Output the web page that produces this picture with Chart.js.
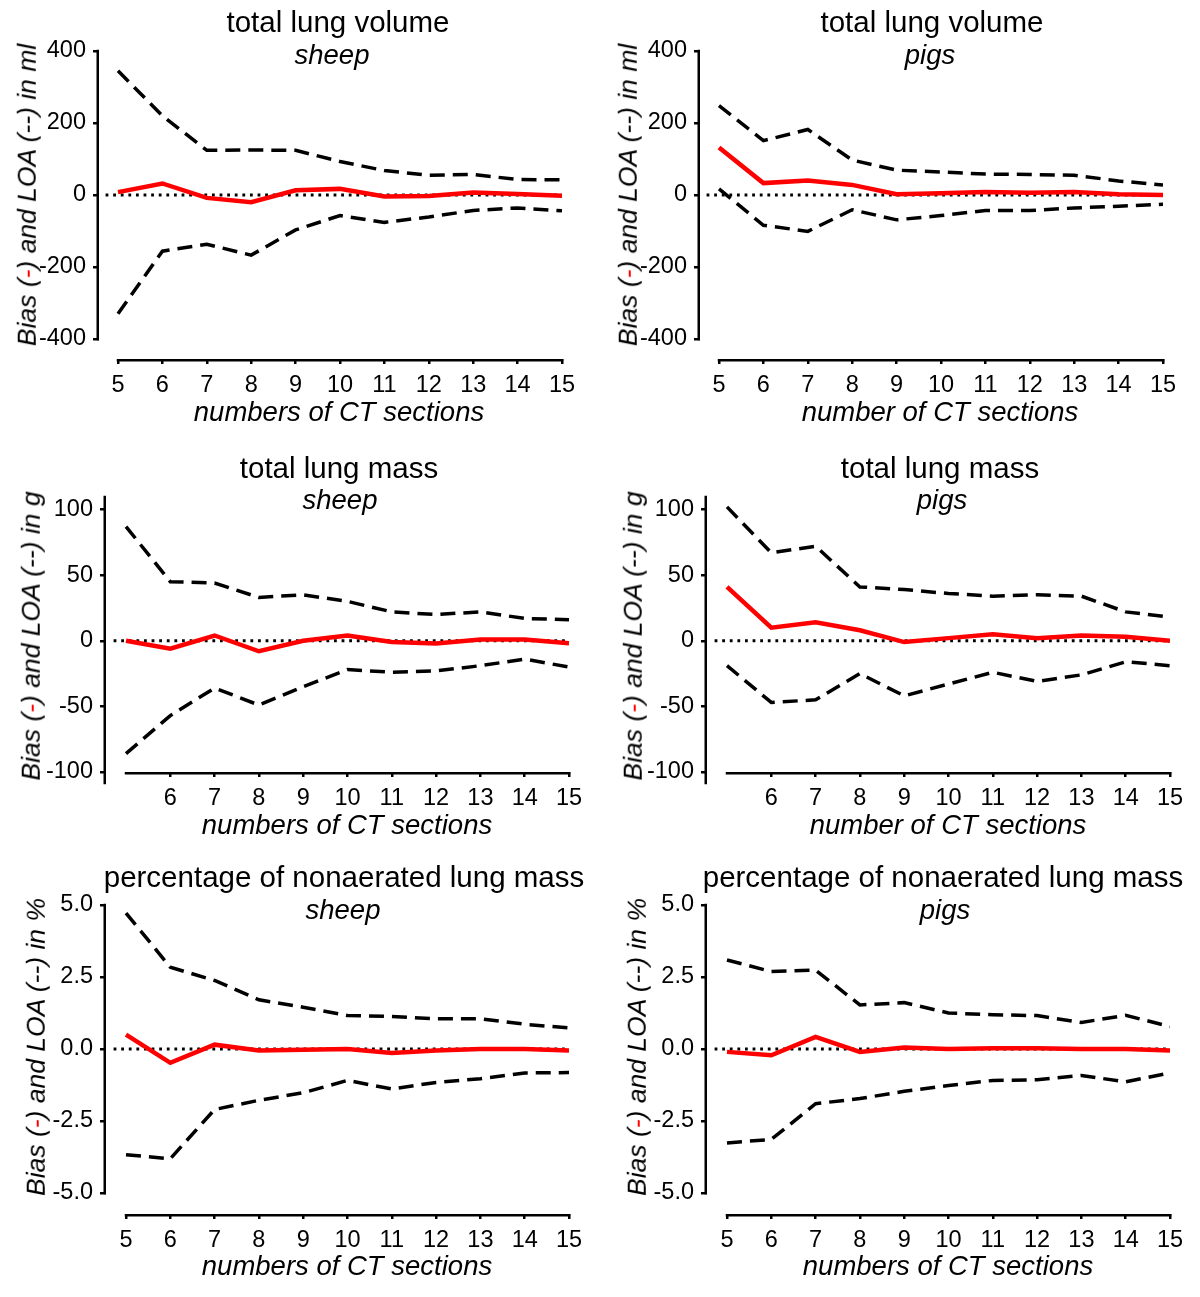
<!DOCTYPE html>
<html><head><meta charset="utf-8">
<script src="https://cdn.jsdelivr.net/npm/chart.js@4.4.1/dist/chart.umd.min.js"></script>
<style>
html,body{margin:0;padding:0;background:#fff;}
#page{position:relative;width:1200px;height:1297px;overflow:hidden;font-family:"Liberation Sans",Arial,sans-serif;color:#000;}
#page canvas{position:absolute;}
.t{position:absolute;transform:translate(-50%,-50%);white-space:nowrap;line-height:1;}
.title{font-size:29.5px;}
.sub{font-size:27.5px;font-style:italic;}
.xt{font-size:27.5px;font-style:italic;}
.yt{font-size:26.5px;font-style:italic;transform:translate(-50%,-50%) rotate(-90deg);}
.red{color:#f00;}
</style></head><body><div id="page"></div>
<script>
// ---------------- data ----------------
const SECTIONS = [5, 6, 7, 8, 9, 10, 11, 12, 13, 14, 15];
const X_TICKS_ALL = [5, 6, 7, 8, 9, 10, 11, 12, 13, 14, 15];
const X_TICKS_MASS = [6, 7, 8, 9, 10, 11, 12, 13, 14, 15];
const Y_TICKS_VOL = [-400, -200, 0, 200, 400];
const Y_TICKS_MASS = [-100, -50, 0, 50, 100];
const Y_TICKS_PCT = [-5, -2.5, 0, 2.5, 5];

const volSheepUpper = [345, 220, 124, 125, 124, 93, 68, 55, 57, 43, 42];
const volSheepBias  = [8, 32, -8, -20, 13, 17, -4, -3, 7, 3, -2];
const volSheepLower = [-330, -156, -137, -167, -97, -57, -76, -61, -43, -36, -44];

const volPigsUpper = [248, 151, 182, 97, 69, 64, 58, 57, 55, 39, 28];
const volPigsBias  = [132, 33, 40, 28, 2, 5, 8, 6, 8, 2, 0];
const volPigsLower = [17, -84, -101, -41, -69, -57, -43, -43, -36, -31, -26];

const massSheepUpper = [87, 45, 44, 33, 35, 30, 22, 20, 22, 17, 16];
const massSheepBias  = [0, -6, 4, -8, 0, 4, -1, -2, 1, 1, -2];
const massSheepLower = [-86, -57, -36, -49, -35, -22, -24, -23, -19, -14, -20];

const massPigsUpper = [102, 67, 72, 41, 39, 36, 34, 35, 34, 22, 18];
const massPigsBias  = [41, 10, 14, 8, -1, 2, 5, 2, 4, 3, 0];
const massPigsLower = [-19, -47, -45, -25, -42, -33, -24, -31, -26, -16, -19];

const pctSheepUpper = [4.72, 2.84, 2.38, 1.71, 1.45, 1.16, 1.13, 1.05, 1.05, 0.86, 0.73];
const pctSheepBias  = [0.5, -0.48, 0.15, -0.05, -0.03, 0.0, -0.14, -0.05, 0.0, 0.0, -0.05];
const pctSheepLower = [-3.67, -3.81, -2.1, -1.78, -1.52, -1.09, -1.39, -1.16, -1.03, -0.83, -0.82];

const pctPigsUpper = [3.09, 2.69, 2.74, 1.53, 1.61, 1.25, 1.19, 1.16, 0.92, 1.17, 0.78];
const pctPigsBias  = [-0.1, -0.22, 0.42, -0.1, 0.05, 0.0, 0.03, 0.03, 0.0, 0.0, -0.05];
const pctPigsLower = [-3.26, -3.14, -1.9, -1.72, -1.47, -1.27, -1.09, -1.07, -0.92, -1.14, -0.83];

const ZERO_LINE_X = [4.72, 15];

// ---------------- layout ----------------
const ROWS = [
  {top: 0,   h: 430, caTop: 51,  caBottom: 359,  tickTop: 51,    tickBot: 339,  yTicks: Y_TICKS_VOL,  xTicks: X_TICKS_ALL,  axisExtraBot: 0,
   title: 'total lung volume', unit: 'ml', dec: 0, titleY: 22, subY: 55, xtY: 412, x5: 118, x15: 562, axisX: 99},
  {top: 450, h: 400, caTop: 497, caBottom: 772,  tickTop: 509.5, tickBot: 772,  yTicks: Y_TICKS_MASS, xTicks: X_TICKS_MASS, axisExtraBot: 11,
   title: 'total lung mass', unit: 'g', dec: 0, titleY: 468, subY: 500, xtY: 825, x5: 126, x15: 569, axisX: 106},
  {top: 860, h: 437, caTop: 905, caBottom: 1214, tickTop: 905,   tickBot: 1193, yTicks: Y_TICKS_PCT,  xTicks: X_TICKS_ALL,  axisExtraBot: 0,
   title: 'percentage of nonaerated lung mass', unit: '%', dec: 1, titleY: 877, subY: 910, xtY: 1266, x5: 126, x15: 569, axisX: 106}
];

const PANELS = [
  {row: 0, col: 0, sub: 'sheep', xt: 'numbers of CT sections', up: volSheepUpper, bias: volSheepBias, lo: volSheepLower, titleX: 338, subX: 332, xtX: 339, ytX: 27, ytY: 195},
  {row: 0, col: 1, sub: 'pigs',  xt: 'number of CT sections',  up: volPigsUpper,  bias: volPigsBias,  lo: volPigsLower,  titleX: 932, subX: 930, xtX: 940, ytX: 628, ytY: 195},
  {row: 1, col: 0, sub: 'sheep', xt: 'numbers of CT sections', up: massSheepUpper, bias: massSheepBias, lo: massSheepLower, titleX: 339, subX: 340, xtX: 347, ytX: 31, ytY: 636},
  {row: 1, col: 1, sub: 'pigs',  xt: 'number of CT sections',  up: massPigsUpper,  bias: massPigsBias,  lo: massPigsLower,  titleX: 940, subX: 942, xtX: 948, ytX: 633, ytY: 636},
  {row: 2, col: 0, sub: 'sheep', xt: 'numbers of CT sections', up: pctSheepUpper, bias: pctSheepBias, lo: pctSheepLower, titleX: 344, subX: 343, xtX: 347, ytX: 36, ytY: 1047},
  {row: 2, col: 1, sub: 'pigs',  xt: 'numbers of CT sections', up: pctPigsUpper,  bias: pctPigsBias,  lo: pctPigsLower,  titleX: 943, subX: 945, xtX: 948, ytX: 637, ytY: 1047}
];
const COL_SHIFT = 601;

Chart.defaults.font.family = "'Liberation Sans', Arial, sans-serif";
Chart.defaults.color = '#000';

const axisLinesPlugin = {
  id: 'axisLines',
  afterDraw(chart, args, opts) {
    const {ctx, chartArea} = chart;
    const xs = chart.scales.x, ys = chart.scales.y;
    ctx.save();
    ctx.strokeStyle = '#000';
    ctx.lineWidth = 2.5;
    ctx.lineCap = 'square';
    ctx.beginPath();
    const ax = chartArea.left - 1.25;
    ctx.moveTo(ax, ys.getPixelForValue(opts.yFrom));
    ctx.lineTo(ax, ys.getPixelForValue(opts.yTo) + opts.extraBot);
    const ay = chartArea.bottom + 1.25;
    ctx.moveTo(xs.getPixelForValue(opts.xFrom), ay);
    ctx.lineTo(xs.getPixelForValue(opts.xTo), ay);
    ctx.stroke();
    ctx.restore();
  }
};

const page = document.getElementById('page');

function addText(cls, x, y, html) {
  const d = document.createElement('div');
  d.className = 't ' + cls;
  d.style.left = x + 'px';
  d.style.top = y + 'px';
  d.innerHTML = html;
  page.appendChild(d);
}

PANELS.forEach(p => {
  const r = ROWS[p.row];
  const shift = p.col * COL_SHIFT;
  const left = shift;
  const axisX = r.axisX + shift, x5 = r.x5 + shift, x15 = r.x15 + shift;
  const yLo = r.yTicks[0], yHi = r.yTicks[r.yTicks.length - 1];
  const ppu = (r.tickBot - r.tickTop) / (yHi - yLo);
  const yMax = yHi + (r.tickTop - r.caTop) / ppu;
  const yMin = yLo - (r.caBottom - r.tickBot) / ppu;
  const xppu = (x15 - x5) / 10;
  const xMin = 5 - (x5 - axisX) / xppu;

  const c = document.createElement('canvas');
  c.width = 600; c.height = r.h;
  c.style.left = left + 'px'; c.style.top = r.top + 'px';
  c.style.width = '600px'; c.style.height = r.h + 'px';
  page.appendChild(c);

  const pts = arr => arr.map((v, i) => ({x: SECTIONS[i], y: v}));
  const yW = axisX - left;
  const xH = r.top + r.h - r.caBottom;

  new Chart(c, {
    type: 'line',
    data: {
      datasets: [
        {label: 'Bias', data: pts(p.bias), borderColor: '#ff0000', borderWidth: 4.5, pointRadius: 0, tension: 0},
        {label: 'Upper LOA', data: pts(p.up), borderColor: '#000', borderWidth: 3.5, borderDash: [15, 8], borderCapStyle: 'butt', pointRadius: 0, tension: 0},
        {label: 'Lower LOA', data: pts(p.lo), borderColor: '#000', borderWidth: 3.5, borderDash: [15, 8], borderCapStyle: 'butt', pointRadius: 0, tension: 0},
        {label: 'zero', data: ZERO_LINE_X.map(x => ({x: x, y: 0})), borderColor: '#000', borderWidth: 2.8, borderDash: [2.8, 4.8], pointRadius: 0}
      ]
    },
    options: {
      responsive: false,
      animation: false,
      devicePixelRatio: 1,
      layout: {padding: {left: 0, top: r.caTop - r.top, right: 600 - (x15 - left), bottom: 0}},
      plugins: {
        legend: {display: false},
        tooltip: {enabled: false},
        axisLines: {yFrom: yMax > yHi ? yMax : yHi, yTo: yLo, extraBot: r.axisExtraBot, xFrom: 5, xTo: 15}
      },
      scales: {
        x: {
          type: 'linear', min: xMin, max: 15,
          afterBuildTicks: s => { s.ticks = r.xTicks.map(v => ({value: v})); },
          afterFit: s => { s.height = xH; },
          border: {display: false},
          grid: {display: true, drawOnChartArea: false, drawTicks: true, tickLength: 5, color: '#000', lineWidth: 2.5},
          ticks: {font: {size: 23.5}, color: '#000', padding: 7, maxRotation: 0, autoSkip: false, callback: v => String(v)}
        },
        y: {
          type: 'linear', min: yMin, max: yMax,
          afterBuildTicks: s => { s.ticks = r.yTicks.map(v => ({value: v})); },
          afterFit: s => { s.width = yW; },
          border: {display: false},
          grid: {display: true, drawOnChartArea: false, drawTicks: true, tickLength: 6, color: '#000', lineWidth: 2.5},
          ticks: {font: {size: 23.5}, color: '#000', padding: 7, autoSkip: false, callback: v => v.toFixed(r.dec)}
        }
      }
    },
    plugins: [axisLinesPlugin]
  });

  addText('title', p.titleX, r.titleY, r.title);
  addText('sub', p.subX, r.subY, p.sub);
  addText('xt', p.xtX, r.xtY, p.xt);
  addText('yt', p.ytX, p.ytY, 'Bias (<span class="red">-</span>) and LOA (--) in ' + r.unit);
});
</script></body></html>
